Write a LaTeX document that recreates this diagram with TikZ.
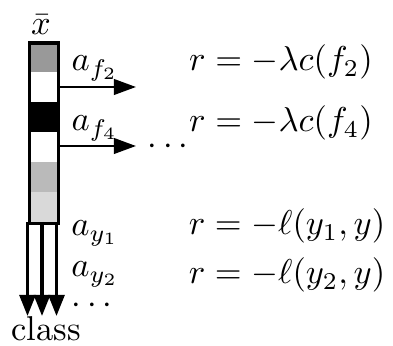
\documentclass[tikz,border=0pt]{standalone}
\usetikzlibrary{arrows.meta}
\begin{document}
\begin{tikzpicture}[x=0.29pt,y=-0.29pt,
  harrow/.style={line width=0.7pt,-{Triangle[length=6.4pt,width=4.5pt]}},
  varrow/.style={line width=0.9pt,-{Triangle[length=6.1pt,width=4.6pt]}},
  lbl/.style={anchor=base,inner sep=0pt},
  dots/.style={anchor=base,inner sep=0pt,text height=3pt,text depth=0pt}]
\useasboundingbox (0,0) rectangle (393,346);
% cells
\fill[black!40] (27.5,41.5) rectangle (56.5,72);
\fill[black] (27.5,102) rectangle (56.5,132);
\fill[black!27] (27.5,162) rectangle (56.5,192);
\fill[black!15] (27.5,192) rectangle (56.5,222);
\node[draw,line width=0.9pt,minimum width=8.41pt,minimum height=52.34pt,inner sep=0pt,anchor=north west] (bar) at (27.5,41.5) {};
\coordinate (b1) at (27.5,222);
\coordinate (b2) at (42,222);
\coordinate (b3) at (56.5,222);
\coordinate (t1) at (27.5,316);
\coordinate (t2) at (42,316);
\coordinate (t3) at (56.5,316);
\draw[varrow] (b1) -- (t1);
\draw[varrow] (b2) -- (t2);
\draw[varrow] (b3) -- (t3);
\coordinate (s1) at (57,87);
\coordinate (e1) at (136,87);
\coordinate (s2) at (57,146);
\coordinate (e2) at (136,146);
\draw[harrow] (s1) -- (e1);
\draw[harrow] (s2) -- (e2);
\node[lbl] (xbar) at (41,35) {$\bar{x}$};
\node[lbl] (af2) at (95,71) {$a_{f_2}$};
\node[lbl] (af4) at (95,131) {$a_{f_4}$};
\node[lbl] (ay1) at (95,236) {$a_{y_1}$};
\node[lbl] (ay2) at (95,277) {$a_{y_2}$};
\node[lbl] (r1) at (281,71) {$r=-\lambda c(f_2)$};
\node[lbl] (r2) at (281,132) {$r=-\lambda c(f_4)$};
\node[lbl] (r3) at (287,235) {$r=-\ell(y_1,y)$};
\node[lbl] (r4) at (287,284) {$r=-\ell(y_2,y)$};
\node[dots] (d1) at (168,155) {$\cdots$};
\node[dots] (d2) at (92,314) {$\cdots$};
\node[lbl] (cls) at (46,340) {class};
\end{tikzpicture}
\end{document}
